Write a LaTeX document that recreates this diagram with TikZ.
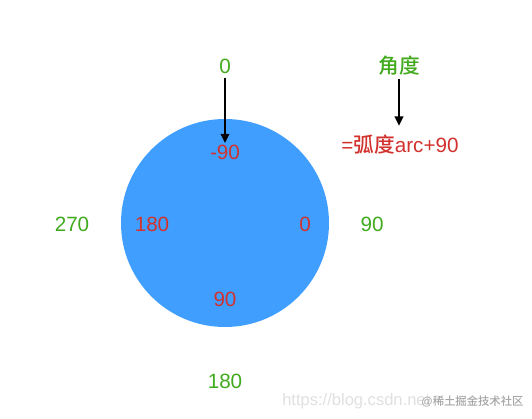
\documentclass[tikz,border=0pt]{standalone}
\usepackage{fontspec}
\setmainfont{Liberation Sans}
\newfontfamily\cjk{Noto Sans CJK SC Medium}
\usetikzlibrary{arrows.meta}
\definecolor{cblue}{HTML}{409EFF}
\definecolor{cred}{RGB}{210,50,45}
\definecolor{cgreen}{RGB}{65,170,30}
\begin{document}
\begin{tikzpicture}[x=0.75pt,y=-0.75pt,
  lbl/.style={inner sep=1pt,font=\fontsize{15.5}{18}\selectfont},
  rlbl/.style={lbl,text=cred},
  glbl/.style={lbl,text=cgreen},
  arr/.style={draw=black,line width=1.4pt,-{Triangle[width=6.5pt,length=7pt]}}]
\useasboundingbox (0,0) rectangle (532,418);
\fill[white] (0,0) rectangle (532,418);
\node[circle,fill=cblue,minimum size=156pt,inner sep=0] (disc) at (225,223) {};
% red inner labels
\node[rlbl] (m90) at (225,152) {-90};
\node[rlbl] (r180) at (152,224) {180};
\node[rlbl] (r0) at (305,224) {0};
\node[rlbl] (r90) at (225,299) {90};
% green outer labels
\node[glbl] (g0) at (225,66) {0};
\node[glbl] (g270) at (72,224) {270};
\node[glbl] (g90) at (372,224) {90};
\node[glbl] (g180) at (225,381) {180};
% legend
\node[glbl] (deg) at (399,66) {\cjk 角度};
\node[rlbl] (rad) at (400,145) {=\cjk 弧度\rmfamily arc+90};
\draw[arr,shorten <=2pt] (g0.south) -- (m90.north);
\draw[arr,shorten <=1pt,shorten >=6pt] (deg.south) -- (deg.south |- rad.north);
% watermark
\node[anchor=west,inner sep=0,text=black!12,font=\fontsize{12.4}{14}\selectfont] (wm1) at (282,401) {https://blog.csdn.net};
\node[anchor=west,inner sep=0,text=black!35,font=\fontsize{8.5}{10}\selectfont] (wm2) at (421,401) {@\cjk 稀土掘金技术社区};
\end{tikzpicture}
\end{document}
